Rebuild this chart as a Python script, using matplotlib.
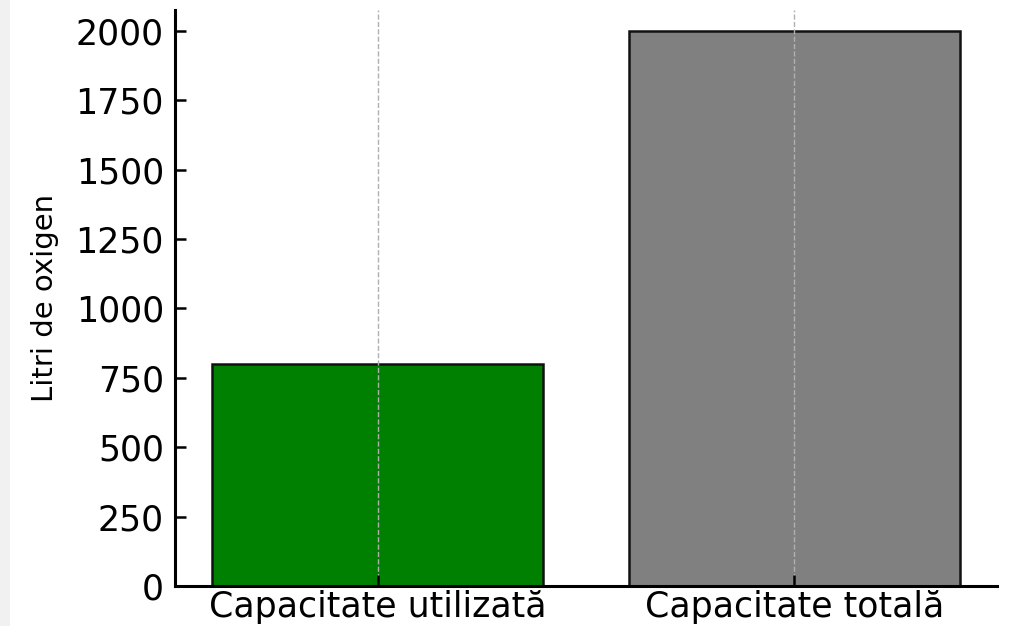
import matplotlib.pyplot as plt
from matplotlib.patches import Rectangle

categorii = ['Capacitate utilizată', 'Capacitate totală']
litri     = [800, 2000]
culori    = ['green', 'gray']

fig = plt.figure( figsize=[10.1,6.26], dpi=100 )
fig.patches.append( Rectangle( (0,0), 0.010, 1, transform=fig.transFigure,
                               facecolor='#f1f1f1', edgecolor='none', zorder=-5 ) )

ax = fig.add_axes( ( 0.1733, 0.0639, 0.8139, 0.984-0.0639 ) )
kwa = {}
kwa['color'    ] = culori
kwa['edgecolor'] = '#111111'
kwa['linewidth'] = 1.8
kwa['width'    ] = 0.795
ax.bar( categorii, litri, **kwa )

ax.set_ylim( 0, 2075 )
ax.set_yticks( [0,250,500,750,1000,1250,1500,1750,2000] )
ax.set_ylabel( 'Litri de oxigen', fontsize=21, labelpad=12 )

ax.xaxis.grid( True, linestyle='--', color='#b0b0b0', linewidth=1.0, zorder=3 )
ax.set_axisbelow( False )

for s in ['top','right'] :
  ax.spines[s].set_visible(False)
for s in ['left','bottom'] :
  ax.spines[s].set_linewidth(2.2)

ax.tick_params( axis='both', direction='in', length=8, width=1.8, labelsize=25 )
ax.tick_params( axis='x', pad=3 )
ax.tick_params( axis='y', pad=8 )

plt.savefig( 'out.png', dpi=100 )
plt.close(fig)
